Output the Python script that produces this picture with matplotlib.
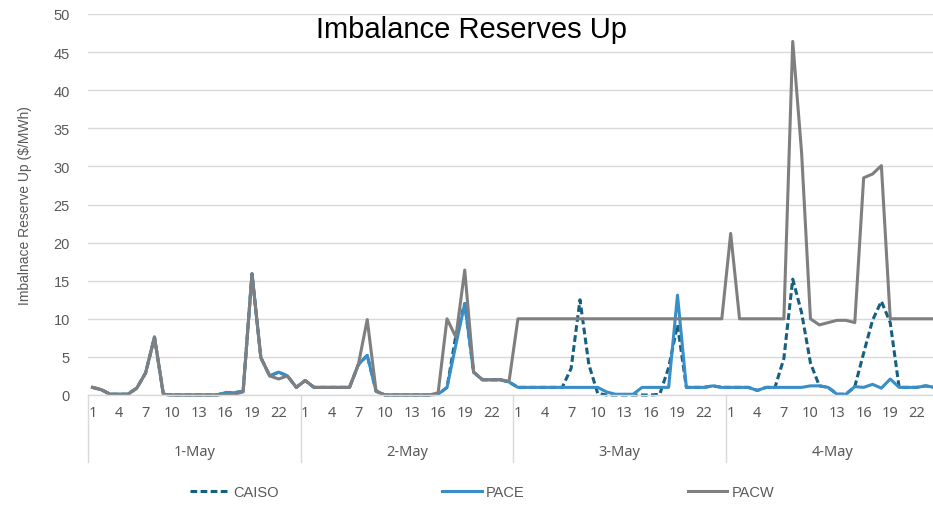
import matplotlib
matplotlib.use('Agg')  # no display
import matplotlib.pyplot as plt
import matplotlib.transforms as mtransforms
import numpy as np

plt.rcParams['font.family'] = ['Liberation Sans', 'DejaVu Sans']

# categories: four days x 24 hours
days = ['1-May', '2-May', '3-May', '4-May']
hours = list(range(1, 25))
hour_labels = [1, 4, 7, 10, 13, 16, 19, 22]

# $/MWh, one row per day
caiso = [
    1.0, 0.7, 0.1, 0.1, 0.1, 0.9, 2.9, 7.6, 0.1, 0.0, 0.0, 0.0, 0.0, 0.0, 0.0, 0.3, 0.3, 0.5, 15.9, 4.9, 2.5, 3.0, 2.5, 1.0,
    1.9, 1.0, 1.0, 1.0, 1.0, 1.0, 4.0, 5.2, 0.5, 0.0, 0.0, 0.0, 0.0, 0.0, 0.0, 0.1, 1.0, 7.8, 12.0, 3.0, 2.0, 2.0, 2.0, 1.7,
    1.0, 1.0, 1.0, 1.0, 1.0, 1.0, 3.5, 12.5, 4.0, 0.2, 0.0, 0.0, 0.0, 0.0, 0.0, 0.0, 0.1, 3.6, 9.2, 1.0, 1.0, 1.0, 1.2, 1.0,
    1.0, 1.0, 1.0, 0.6, 1.0, 1.0, 4.8, 15.2, 10.8, 4.2, 1.2, 1.0, 0.1, 0.1, 1.1, 5.5, 9.8, 12.3, 9.5, 1.0, 1.0, 1.0, 1.2, 1.0,
]
pace = [
    1.0, 0.7, 0.1, 0.1, 0.1, 0.9, 2.9, 7.6, 0.1, 0.0, 0.0, 0.0, 0.0, 0.0, 0.0, 0.3, 0.3, 0.5, 15.9, 4.9, 2.5, 3.0, 2.5, 1.0,
    1.9, 1.0, 1.0, 1.0, 1.0, 1.0, 4.0, 5.2, 0.5, 0.0, 0.0, 0.0, 0.0, 0.0, 0.0, 0.1, 1.0, 6.6, 12.0, 3.0, 2.0, 2.0, 2.0, 1.7,
    1.0, 1.0, 1.0, 1.0, 1.0, 1.0, 1.0, 1.0, 1.0, 1.0, 0.4, 0.1, 0.1, 0.1, 1.0, 1.0, 1.0, 1.0, 13.1, 1.0, 1.0, 1.0, 1.2, 1.0,
    1.0, 1.0, 1.0, 0.6, 1.0, 1.0, 1.0, 1.0, 1.0, 1.2, 1.2, 1.0, 0.1, 0.1, 1.1, 1.0, 1.4, 0.9, 2.1, 1.0, 1.0, 1.0, 1.2, 1.0,
]
pacw = [
    1.0, 0.7, 0.1, 0.1, 0.1, 0.9, 2.9, 7.6, 0.1, 0.0, 0.0, 0.0, 0.0, 0.0, 0.0, 0.1, 0.1, 0.4, 15.9, 4.9, 2.5, 2.1, 2.5, 1.0,
    1.9, 1.0, 1.0, 1.0, 1.0, 1.0, 4.0, 9.9, 0.5, 0.0, 0.0, 0.0, 0.0, 0.0, 0.0, 0.3, 10.0, 7.6, 16.4, 3.0, 2.0, 2.0, 2.0, 1.8,
    10.0, 10.0, 10.0, 10.0, 10.0, 10.0, 10.0, 10.0, 10.0, 10.0, 10.0, 10.0, 10.0, 10.0, 10.0, 10.0, 10.0, 10.0, 10.0, 10.0, 10.0, 10.0, 10.0, 10.0,
    21.2, 10.0, 10.0, 10.0, 10.0, 10.0, 10.0, 46.4, 31.8, 10.0, 9.2, 9.5, 9.8, 9.8, 9.5, 28.5, 29.0, 30.1, 10.0, 10.0, 10.0, 10.0, 10.0, 10.0,
]

grid_col = '#d9d9d9'
text_col = '#595959'

fig = plt.figure(figsize=(9.33, 5.10), dpi=100)
# plot area runs a little past the right edge, as in the reference
ax = fig.add_axes([88 / 933, 114 / 510, 851 / 933, 381 / 510])

n = len(days) * len(hours)
x = np.arange(n)
ax.plot(x, caiso, color='#156082', lw=2.2, dashes=(2.2, 1.1), dash_capstyle='butt',
        dash_joinstyle='round', label='CAISO', clip_on=False)
ax.plot(x, pace, color='#3a8ec8', lw=2.2, solid_joinstyle='round', label='PACE', clip_on=False)
ax.plot(x, pacw, color='#7f7f7f', lw=2.2, solid_joinstyle='round', label='PACW', clip_on=False)

ax.set_xlim(-0.5, n - 0.5)
ax.set_ylim(0, 50)
ax.set_yticks(np.arange(0, 51, 5))
ax.grid(axis='y', color=grid_col, lw=1)
ax.set_axisbelow(True)
for s in ['top', 'right', 'left']:
    ax.spines[s].set_visible(False)
ax.spines['bottom'].set_color(grid_col)
ax.spines['bottom'].set_linewidth(1)

ax.tick_params(axis='y', length=0, pad=13, labelsize=10.5, labelcolor=text_col)

# hour labels every third hour
tick_pos = [d * 24 + h - 1 for d in range(len(days)) for h in hour_labels]
tick_txt = [str(h) for d in range(len(days)) for h in hour_labels]
ax.set_xticks(tick_pos)
ax.set_xticklabels(tick_txt, fontsize=10.5, color=text_col, family=['Noto Sans', 'DejaVu Sans'])
ax.tick_params(axis='x', length=0, pad=7)

# day group labels and separators
trans = mtransforms.blended_transform_factory(ax.transData, ax.transAxes)
for d, day in enumerate(days):
    ax.text(d * 24 + 11.5, -0.147, day, transform=trans, ha='center', va='center',
            fontsize=10.5, color=text_col, family=['Noto Sans', 'DejaVu Sans'])
for d in range(len(days) + 1):
    ax.plot([d * 24 - 0.5, d * 24 - 0.5], [0, -0.176], transform=trans,
            color=grid_col, lw=1, clip_on=False)

fig.text(25.5 / 933, 0.5 - ((396 + 15) / 2 - 255) / 510, 'Imbalnace Reserve Up ($/MWh)',
         rotation=90, ha='center', va='center', fontsize=10, color=text_col)

fig.text(472 / 933, (510 - 30) / 510, 'Imbalance Reserves Up', ha='center', va='center',
         fontsize=21, color='black')

leg = fig.legend(loc='center', bbox_to_anchor=(482 / 933, 17 / 510), ncol=3, frameon=False,
                 fontsize=10.5, handlelength=2.7, handletextpad=0.3, columnspacing=11.2)
for t in leg.get_texts():
    t.set_color(text_col)

plt.savefig('out.png', dpi=100)
plt.close()
